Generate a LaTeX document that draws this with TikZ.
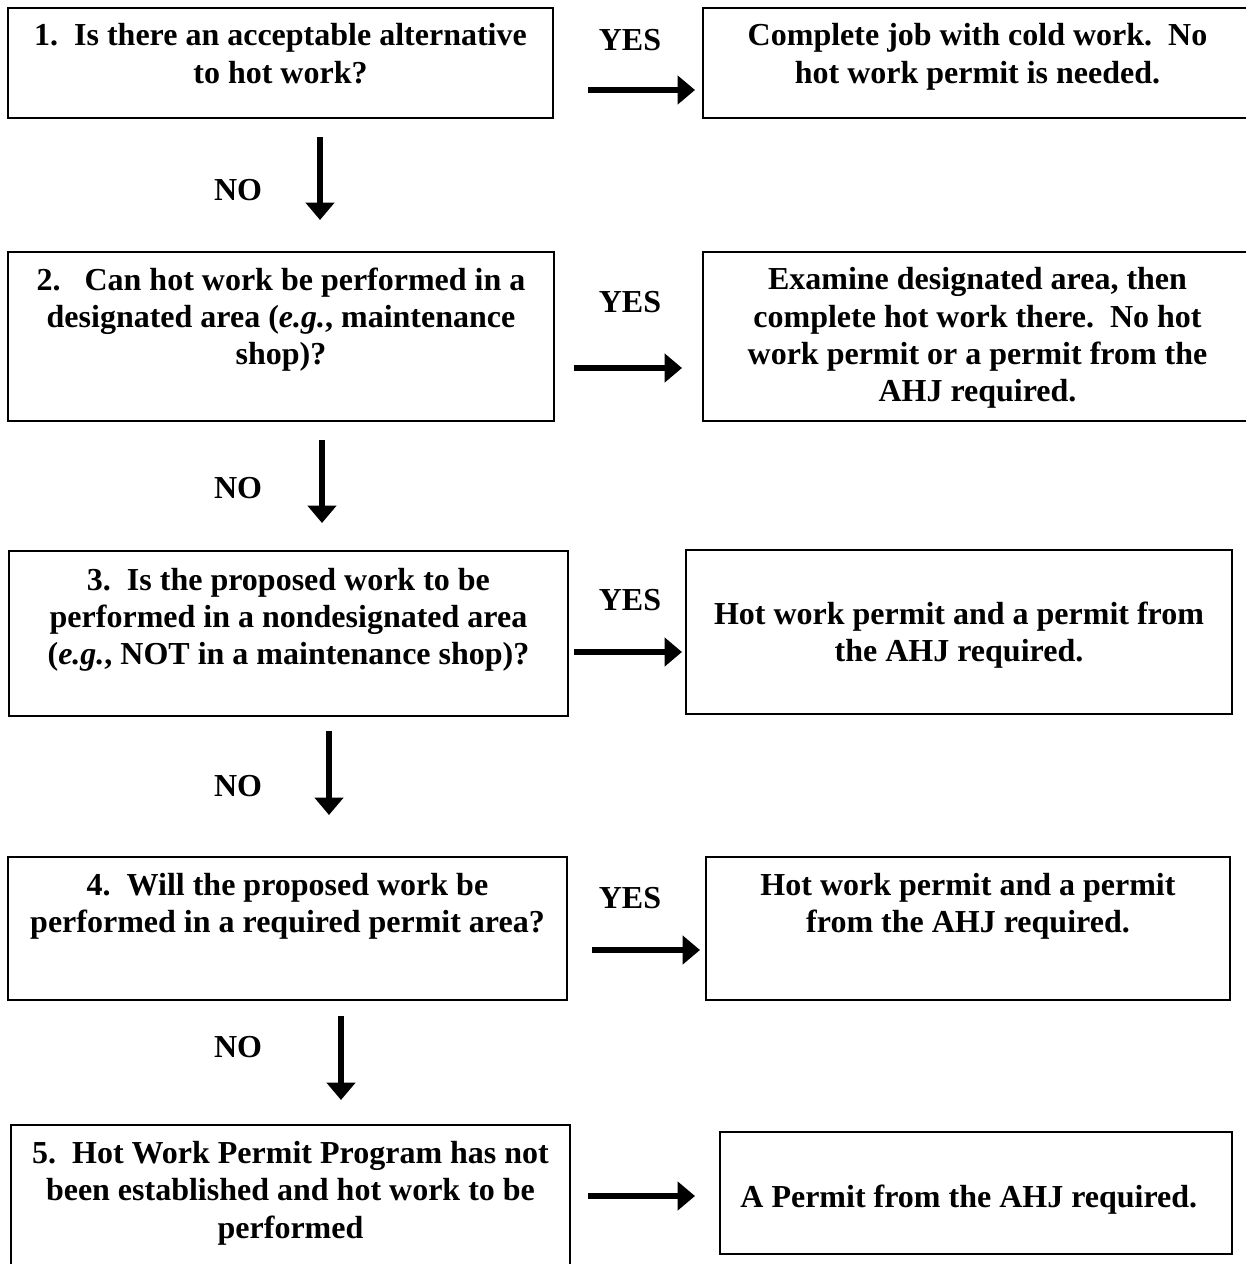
\documentclass[tikz,border=0pt]{standalone}
\usepackage{fontspec}
\setmainfont{Liberation Serif}
\usepackage{tikz}
\usetikzlibrary{positioning,arrows.meta}

\tikzset{
  qbox/.style={draw, line width=0.6pt, rectangle, inner sep=0pt},
  qtext/.style={align=center, inner sep=0pt, font=\fontsize{12}{14}\selectfont\bfseries},
  lbl/.style={inner sep=0pt, font=\fontsize{12}{14}\selectfont\bfseries},
  arr/.style={line width=2.4pt, -{Triangle[length=6.5pt,width=10.5pt]}}
}

\begin{document}
\begin{tikzpicture}[x=0.375pt,y=-0.375pt]
\useasboundingbox (0,0) rectangle (1246,1264);

% question boxes
\node[qbox, minimum width=204.4pt, minimum height=41.25pt] (q1) at (280.5,63) {};
\node[qbox, minimum width=204.75pt, minimum height=63.4pt] (q2) at (281,336.5) {};
\node[qbox, minimum width=209.6pt, minimum height=61.9pt] (q3) at (288.5,633.5) {};
\node[qbox, minimum width=209.6pt, minimum height=53.6pt] (q4) at (287.5,928.5) {};
\node[qbox, minimum width=209.6pt, minimum height=54.4pt] (q5) at (290.5,1197.5) {};

\node[qtext, below=6pt of q1.north] (t1) {1.\ \ Is there an acceptable alternative\\to hot work?};
\node[qtext, below=6pt of q2.north] (t2) {2.\ \ \ Can hot work be performed in a\\designated area (\textit{e.g.}, maintenance\\shop)?};
\node[qtext, below=6.5pt of q3.north] (t3) {3.\ \ Is the proposed work to be\\performed in a nondesignated area\\(\textit{e.g.}, NOT in a maintenance shop)?};
\node[qtext, below=6.2pt of q4.north] (t4) {4.\ \ Will the proposed work be\\performed in a required permit area?};
\node[qtext, below=6.2pt of q5.north] (t5) {5.\ \ Hot Work Permit Program has not\\been established and hot work to be\\performed};

% answer boxes
\node[qbox, minimum width=205.9pt, minimum height=41.25pt] (a1) at (977.5,63) {};
\node[qbox, minimum width=205.9pt, minimum height=63.4pt] (a2) at (977.5,336.5) {};
\node[qbox, minimum width=204.75pt, minimum height=61.5pt] (a3) at (959,632) {};
\node[qbox, minimum width=196.5pt, minimum height=53.6pt] (a4) at (968,928.5) {};
\node[qbox, minimum width=192pt, minimum height=45.75pt] (a5) at (976,1193) {};

\node[qtext, below=6pt of a1.north] (s1) {Complete job with cold work.\ \ No\\hot work permit is needed.};
\node[qtext, below=6pt of a2.north] (s2) {Examine designated area, then\\complete hot work there.\ \ No hot\\work permit or a permit from the\\AHJ required.};
\node[qtext, below=19.6pt of a3.north] (s3) {Hot work permit and a permit from\\the AHJ required.};
\node[qtext, below=6.2pt of a4.north] (s4) {Hot work permit and a permit\\from the AHJ required.};
\node[qtext, below=19.8pt of a5.north, xshift=-2.7pt] (s5) {A Permit from the AHJ required.};

% YES arrows
\coordinate (y1a) at (588,90);   \coordinate (y1b) at (695,90);
\coordinate (y2a) at (574,368);  \coordinate (y2b) at (682,368);
\coordinate (y3a) at (574,652);  \coordinate (y3b) at (682,652);
\coordinate (y4a) at (592,950);  \coordinate (y4b) at (700,950);
\coordinate (y5a) at (588,1196); \coordinate (y5b) at (695,1196);
\draw[arr] (y1a) -- (y1b);
\draw[arr] (y2a) -- (y2b);
\draw[arr] (y3a) -- (y3b);
\draw[arr] (y4a) -- (y4b);
\draw[arr] (y5a) -- (y5b);

\node[lbl] (yes1) at (630,40) {YES};
\node[lbl] (yes2) at (630,302) {YES};
\node[lbl] (yes3) at (630,600) {YES};
\node[lbl] (yes4) at (630,898) {YES};

% NO arrows
\coordinate (n1a) at (320,137);  \coordinate (n1b) at (320,220);
\coordinate (n2a) at (322,440);  \coordinate (n2b) at (322,523);
\coordinate (n3a) at (329,731);  \coordinate (n3b) at (329,815);
\coordinate (n4a) at (341,1016); \coordinate (n4b) at (341,1100);
\draw[arr] (n1a) -- (n1b);
\draw[arr] (n2a) -- (n2b);
\draw[arr] (n3a) -- (n3b);
\draw[arr] (n4a) -- (n4b);

\node[lbl] (no1) at (238,190) {NO};
\node[lbl] (no2) at (238,488) {NO};
\node[lbl] (no3) at (238,786) {NO};
\node[lbl] (no4) at (238,1047) {NO};
\end{tikzpicture}
\end{document}
